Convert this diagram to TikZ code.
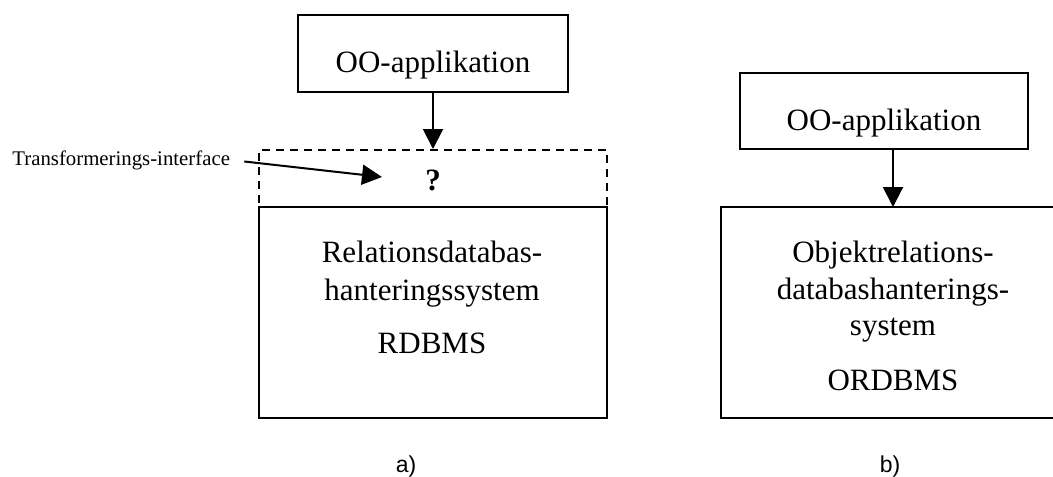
\documentclass[tikz,border=0pt]{standalone}
\usepackage{fontspec}
\setmainfont{Liberation Serif}
\newfontfamily\labelfont{Liberation Sans}
\usetikzlibrary{arrows.meta}
\begin{document}
\begin{tikzpicture}[x=0.5pt,y=-0.5pt,
  box/.style={draw,line width=1pt,rectangle,inner sep=0pt},
  dashbox/.style={draw,line width=1pt,dash pattern=on 4pt off 3pt,rectangle,inner sep=0pt},
  maintext/.style={font=\fontsize{15.5pt}{18pt}\selectfont,anchor=base,inner sep=0pt},
  smalltext/.style={font=\fontsize{10.4pt}{12pt}\selectfont,anchor=base west,inner sep=0pt},
  captext/.style={font=\labelfont\fontsize{11.5pt}{13pt}\selectfont,anchor=base,inner sep=0pt},
  flow/.style={line width=1pt,-{Triangle[length=10pt,width=10pt]}}]
\useasboundingbox (0,0) rectangle (1053,476);
\begin{scope}
\clip (0,0) rectangle (1053,476);

% a) relational database with an unknown transformation layer
\node[box,minimum width=135pt,minimum height=38.5pt] (appA) at (433,53.5) {};
\node[maintext] (appAtxt) at (433,73) {OO-applikation};
\node[dashbox,minimum width=174pt,minimum height=28.5pt] (iface) at (433,178.5) {};
\node[maintext,font=\fontsize{15.5pt}{18pt}\selectfont\bfseries] (qmark) at (433,190) {?};
\node[box,minimum width=174pt,minimum height=105.5pt] (rdbms) at (433,312.5) {};
\node[maintext] (rdbmsA) at (432,262) {Relationsdatabas-};
\node[maintext] (rdbmsB) at (432,300) {hanteringssystem};
\node[maintext] (rdbmsC) at (432,353) {RDBMS};
\node[smalltext] (trlabel) at (12,165) {Transformerings-interface};
\coordinate (trtip) at (382,177);
\draw[flow] (appA.south) -- (iface.north);
\draw[flow,shorten <=7pt] (trlabel.east) -- (trtip);
\node[captext] (capA) at (406,472) {a)};

% b) object-relational database; the box runs past the right margin
\node[box,minimum width=184.5pt,minimum height=105.5pt] (ordbms) at (905.5,312.5) {};
\coordinate (ordbmsin) at (893,207);
\node[box,minimum width=144pt,minimum height=38pt] (appB) at (884,111) {};
\node[maintext] (appBtxt) at (884,130) {OO-applikation};
\node[maintext] (ordbmsA) at (893,262) {Objektrelations-};
\node[maintext] (ordbmsB) at (893,299) {databashanterings-};
\node[maintext] (ordbmsC) at (893,335) {system};
\node[maintext] (ordbmsD) at (893,390) {ORDBMS};
\draw[flow] (appB.south -| ordbmsin) -- (ordbmsin);
\node[captext] (capB) at (890,472) {b)};
\end{scope}
\end{tikzpicture}
\end{document}
